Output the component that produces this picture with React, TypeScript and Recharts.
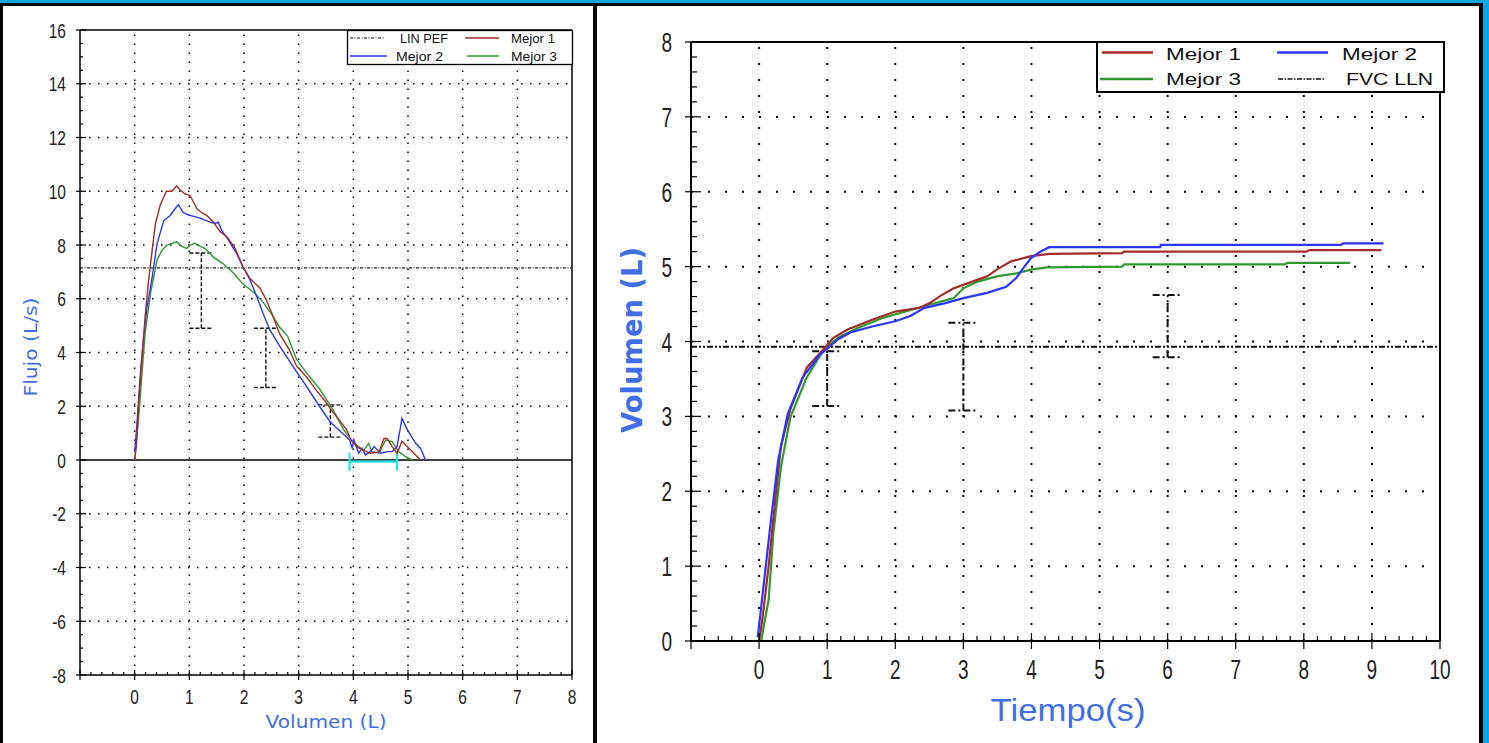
import React from 'react';
import { ComposedChart, Line, XAxis, YAxis, ReferenceLine, Scatter, ErrorBar, Label } from 'recharts';

// ---------- Flow / volume (left chart) ----------
const fvBest1: [number, number][] = [
  [0, 0], [0.03, 0.5], [0.07, 2.0], [0.13, 3.7], [0.19, 5.3], [0.25, 6.6], [0.32, 7.8], [0.38, 8.8],
  [0.47, 9.5], [0.58, 10.0], [0.68, 10.0], [0.77, 10.2], [0.83, 10.05], [0.92, 9.9], [1.01, 9.85],
  [1.14, 9.35], [1.23, 9.2], [1.32, 9.1], [1.44, 8.85], [1.56, 8.5], [1.69, 8.3], [1.83, 7.9],
  [1.98, 7.2], [2.11, 6.75], [2.29, 6.4], [2.41, 5.95], [2.53, 5.35], [2.65, 4.7], [2.83, 4.1],
  [2.96, 3.5], [3.14, 3.1], [3.32, 2.6], [3.5, 2.15], [3.6, 1.85], [3.68, 1.65], [3.87, 1.15],
  [3.97, 0.7], [4.1, 0.45], [4.2, 0.35], [4.31, 0.25], [4.47, 0.3], [4.56, 0.8], [4.62, 0.8],
  [4.71, 0.5], [4.8, 0.25], [4.89, 0.7], [5.02, 0.43], [5.14, 0.19], [5.23, 0],
];
const fvBest2: [number, number][] = [
  [0, 0.3], [0.04, 1.3], [0.1, 3.1], [0.16, 4.5], [0.22, 5.6], [0.32, 6.8], [0.41, 8.05], [0.53, 8.9],
  [0.65, 9.1], [0.74, 9.35], [0.8, 9.5], [0.89, 9.2], [1.01, 9.1], [1.2, 9.0], [1.38, 8.85],
  [1.47, 8.8], [1.53, 8.85], [1.59, 8.55], [1.71, 8.2], [1.86, 7.7], [1.98, 7.2], [2.11, 6.7],
  [2.23, 6.1], [2.35, 5.45], [2.47, 4.85], [2.65, 4.25], [2.89, 3.5], [3.14, 2.75], [3.38, 2.0],
  [3.58, 1.4], [3.77, 1.05], [3.93, 0.75], [3.98, 0.43], [4.01, 0.74], [4.1, 0.25], [4.16, 0.43],
  [4.22, 0.19], [4.31, 0.31], [4.38, 0.5], [4.5, 0.25], [4.62, 0.31], [4.71, 0.31], [4.8, 0.5],
  [4.89, 1.55], [4.99, 1.12], [5.14, 0.62], [5.23, 0.43], [5.32, 0],
];
const fvBest3: [number, number][] = [
  [0, 0], [0.07, 1.5], [0.13, 3.1], [0.19, 4.7], [0.29, 6.2], [0.41, 7.45], [0.5, 7.8], [0.59, 8.0],
  [0.77, 8.12], [0.86, 7.95], [0.95, 7.87], [1.02, 8.0], [1.1, 8.06], [1.2, 7.95], [1.29, 7.87],
  [1.44, 7.55], [1.62, 7.3], [1.81, 6.95], [1.98, 6.55], [2.17, 6.25], [2.32, 5.95], [2.5, 5.45],
  [2.65, 4.95], [2.8, 4.6], [2.96, 3.75], [3.14, 3.25], [3.38, 2.65], [3.62, 1.9], [3.83, 1.1],
  [4.01, 0.62], [4.19, 0.37], [4.28, 0.62], [4.34, 0.31], [4.47, 0.25], [4.59, 0.74], [4.71, 0.68],
  [4.83, 0.31], [4.96, 0.12], [5.08, 0],
];
const linPef = 7.15;
const fvErrX = [1.22, 2.4, 3.58];
const fvErrLow = [4.9, 2.7, 0.85];
const fvErrHigh = [7.7, 4.9, 2.05];
const fvCyanFrom = 3.93;
const fvCyanTo = 4.8;
const fvCyanY = -0.06;

const fvXLabels = [0, 1, 2, 3, 4, 5, 6, 7, 8];
const fvYLabels = [-8, -6, -4, -2, 0, 2, 4, 6, 8, 10, 12, 14, 16];
const fvXGrid = [0, 1, 2, 3, 4, 5, 6, 7];
const fvYGrid = [-6, -4, -2, 2, 4, 6, 8, 10, 12, 14];

// ---------- Volume / time (right chart) ----------
const vtBest1: [number, number][] = [
  [0, 0], [0.05, 0.3], [0.14, 1.0], [0.25, 2.0], [0.32, 2.6], [0.46, 3.1], [0.7, 3.65], [0.95, 3.9],
  [1.09, 4.05], [1.3, 4.16], [1.66, 4.29], [2.0, 4.4], [2.36, 4.45], [2.5, 4.51], [2.68, 4.62],
  [2.86, 4.71], [3.07, 4.78], [3.35, 4.87], [3.49, 4.96], [3.7, 5.07], [3.99, 5.14], [4.27, 5.17],
  [5.33, 5.18], [5.36, 5.2], [8.04, 5.2], [8.08, 5.22], [9.14, 5.22],
];
const vtBest2: [number, number][] = [
  [-0.02, 0.05], [0.07, 0.77], [0.18, 1.66], [0.28, 2.41], [0.42, 3.03], [0.64, 3.52], [0.88, 3.81],
  [1.02, 3.92], [1.16, 4.03], [1.34, 4.12], [1.66, 4.2], [2.0, 4.27], [2.22, 4.34], [2.43, 4.45],
  [2.72, 4.51], [3.0, 4.58], [3.35, 4.65], [3.63, 4.73], [3.78, 4.85], [3.88, 4.98], [3.99, 5.11],
  [4.13, 5.2], [4.26, 5.26], [5.89, 5.26], [5.9, 5.29], [8.54, 5.29], [8.58, 5.31], [9.17, 5.31],
];
const vtBest3: [number, number][] = [
  [0.03, 0], [0.14, 0.55], [0.21, 1.44], [0.32, 2.32], [0.46, 2.99], [0.7, 3.52], [0.95, 3.89],
  [1.16, 4.05], [1.45, 4.18], [1.8, 4.31], [2.15, 4.4], [2.5, 4.49], [2.86, 4.58], [3.0, 4.71],
  [3.21, 4.8], [3.49, 4.87], [3.78, 4.91], [3.99, 4.96], [4.23, 4.99], [5.33, 5.0], [5.36, 5.03],
  [7.72, 5.03], [7.76, 5.05], [8.68, 5.05],
];
const fvcLln = 3.93;
const vtErrX = [1, 3, 6];
const vtErrLow = [3.14, 3.08, 3.79];
const vtErrHigh = [3.87, 4.25, 4.62];

const vtXLabels = [0, 1, 2, 3, 4, 5, 6, 7, 8, 9, 10];
const vtYLabels = [0, 1, 2, 3, 4, 5, 6, 7, 8];
const vtXGrid = [0, 1, 2, 3, 4, 5, 6, 7, 8, 9];
const vtYGrid = [1, 2, 3, 4, 5, 6, 7];

// ---------- helpers ----------
const RED = '#A52A2A';
const BLUE = '#2B35FF';
const GREEN = '#2E9A2E';
const TITLE = '#3F6EE8';
const TICKFONT = '"Liberation Sans", Arial, sans-serif';

const toPts = (arr: [number, number][]) => arr.map(([x, y]) => ({ x, y }));
const range = (a: number, b: number, s: number) => {
  const out: number[] = [];
  const n = Math.round((b - a) / s);
  for (let i = 0; i <= n; i++) out.push(+(a + i * s).toFixed(4));
  return out;
};
const errData = (xs: number[], lo: number[], hi: number[]) =>
  xs.map((x, i) => ({ x, y: (lo[i] + hi[i]) / 2, err: [(hi[i] - lo[i]) / 2, (hi[i] - lo[i]) / 2] }));

type TickOpts = {
  majorEvery: number; labels: number[]; fs: number; sx: number; off: number;
  majA: number; majB: number; minB: number;
};
const isMajor = (v: number, every: number) =>
  Math.abs(v - Math.round(v)) < 1e-6 && Math.round(v) % every === 0;

const makeXTick = (o: TickOpts) => (p: any) => {
  const { x, y, payload } = p;
  const v = payload.value as number;
  const maj = isMajor(v, o.majorEvery);
  const show = maj && o.labels.includes(Math.round(v));
  return (
    <g>
      <line x1={x} x2={x} y1={y - (maj ? o.majB : o.minB)} y2={y + (maj ? o.majA : 0)} stroke="#000" strokeWidth={1.2} />
      {show && (
        <text transform={`translate(${x},${y + o.off}) scale(${o.sx},1)`} textAnchor="middle"
          fontFamily={TICKFONT} fontSize={o.fs} fill="#222">{Math.round(v)}</text>
      )}
    </g>
  );
};
const makeYTick = (o: TickOpts) => (p: any) => {
  const { x, y, payload } = p;
  const v = payload.value as number;
  const maj = isMajor(v, o.majorEvery);
  const show = maj && o.labels.includes(Math.round(v));
  return (
    <g>
      <line x1={x - (maj ? o.majA : 0)} x2={x + (maj ? o.majB : o.minB)} y1={y} y2={y} stroke="#000" strokeWidth={1.2} />
      {show && (
        <text transform={`translate(${x - o.off},${y + o.fs * 0.36}) scale(${o.sx},1)`} textAnchor="end"
          fontFamily={TICKFONT} fontSize={o.fs} fill="#222">{Math.round(v)}</text>
      )}
    </g>
  );
};

const FlowVolume = () => (
  <ComposedChart width={592} height={743} margin={{ top: 30, right: 20, bottom: 0, left: 0 }}
    style={{ position: 'absolute', left: 0, top: 0 }}>
    <XAxis type="number" dataKey="x" domain={[-1, 8]} allowDataOverflow ticks={range(-1, 8, 0.2)} interval={0}
      height={68} tickSize={0} tickMargin={0} axisLine={{ stroke: '#000', strokeWidth: 1.5 }}
      tick={makeXTick({ majorEvery: 1, labels: fvXLabels, fs: 21, sx: 0.74, off: 29, majA: 5, majB: 5, minB: 3 })}>
      <Label content={() => (
        <text x={326} y={728} textAnchor="middle" fontFamily='"DejaVu Sans", Verdana, sans-serif' fontSize={18}
          fill={TITLE} textLength={121} lengthAdjust="spacingAndGlyphs">Volumen (L)</text>
      )} />
    </XAxis>
    <YAxis type="number" dataKey="y" domain={[-8, 16]} allowDataOverflow ticks={range(-8, 16, 0.5)} interval={0}
      width={80} tickSize={0} tickMargin={0} axisLine={{ stroke: '#000', strokeWidth: 1.5 }}
      tick={makeYTick({ majorEvery: 2, labels: fvYLabels, fs: 21, sx: 0.74, off: 14, majA: 4, majB: 6, minB: 3 })}>
      <Label content={() => (
        <text transform="translate(37,347) rotate(-90)" textAnchor="middle" fontFamily='"DejaVu Sans", Verdana, sans-serif'
          fontSize={18} fill={TITLE} textLength={99} lengthAdjust="spacingAndGlyphs">Flujo (L/s)</text>
      )} />
    </YAxis>
    {fvXGrid.map((v) => (
      <ReferenceLine key={'gx' + v} x={v} stroke="#000" strokeWidth={1.5} strokeDasharray="1.5 7.5" />
    ))}
    {fvYGrid.map((v) => (
      <ReferenceLine key={'gy' + v} y={v} stroke="#000" strokeWidth={1.5} strokeDasharray="1.5 7.5" />
    ))}
    <ReferenceLine y={16} stroke="#000" strokeWidth={1.5} />
    <ReferenceLine x={8} stroke="#000" strokeWidth={1.5} />
    <ReferenceLine y={0} stroke="#000" strokeWidth={1.5} />
    <ReferenceLine y={linPef} stroke="#222" strokeWidth={1.2} strokeDasharray="3 1.5 1 1.5" />
    <Scatter data={errData(fvErrX, fvErrLow, fvErrHigh)} dataKey="y" shape={() => <g />} isAnimationActive={false}>
      <ErrorBar dataKey="err" direction="y" width={12} stroke="#111" strokeWidth={1.4} strokeDasharray="4 2" />
    </Scatter>
    <Scatter data={[{ x: (fvCyanFrom + fvCyanTo) / 2, y: fvCyanY, err: (fvCyanTo - fvCyanFrom) / 2 }]} dataKey="y"
      shape={() => <g />} isAnimationActive={false}>
      <ErrorBar dataKey="err" direction="x" width={9} stroke="#22E5E5" strokeWidth={2.2} />
    </Scatter>
    <Line data={toPts(fvBest3)} dataKey="y" type="linear" stroke={GREEN} strokeWidth={1.4} dot={false} isAnimationActive={false} />
    <Line data={toPts(fvBest2)} dataKey="y" type="linear" stroke={BLUE} strokeWidth={1.4} dot={false} isAnimationActive={false} />
    <Line data={toPts(fvBest1)} dataKey="y" type="linear" stroke={RED} strokeWidth={1.4} dot={false} isAnimationActive={false} />
  </ComposedChart>
);

const VolumeTime = () => (
  <ComposedChart width={870} height={743} margin={{ top: 42, right: 26, bottom: 0, left: 0 }}
    style={{ position: 'absolute', left: 596, top: 0 }}>
    <XAxis type="number" dataKey="x" domain={[-1, 10]} allowDataOverflow ticks={range(-1, 10, 0.2)} interval={0}
      height={102} tickSize={0} tickMargin={0} axisLine={{ stroke: '#000', strokeWidth: 2 }}
      tick={makeXTick({ majorEvery: 1, labels: vtXLabels, fs: 28, sx: 0.68, off: 38, majA: 8, majB: 8, minB: 5 })}>
      <Label content={() => (
        <text x={472} y={721} textAnchor="middle" fontFamily={TICKFONT} fontSize={32}
          fill={TITLE} textLength={155} lengthAdjust="spacingAndGlyphs">Tiempo(s)</text>
      )} />
    </XAxis>
    <YAxis type="number" dataKey="y" domain={[0, 8]} allowDataOverflow ticks={range(0, 8, 0.2)} interval={0}
      width={95} tickSize={0} tickMargin={0} axisLine={{ stroke: '#000', strokeWidth: 2 }}
      tick={makeYTick({ majorEvery: 1, labels: vtYLabels, fs: 28, sx: 0.68, off: 19, majA: 6, majB: 10, minB: 6 })}>
      <Label content={() => (
        <text transform="translate(46,340) rotate(-90)" textAnchor="middle" fontFamily='"DejaVu Sans", Verdana, sans-serif'
          fontSize={28} fontWeight="bold" fill={TITLE} textLength={186} lengthAdjust="spacingAndGlyphs">Volumen (L)</text>
      )} />
    </YAxis>
    {vtXGrid.map((v) => (
      <ReferenceLine key={'gx' + v} x={v} stroke="#000" strokeWidth={2} strokeDasharray="2 14" />
    ))}
    {vtYGrid.map((v) => (
      <ReferenceLine key={'gy' + v} y={v} stroke="#000" strokeWidth={2} strokeDasharray="2 15" />
    ))}
    <ReferenceLine y={8} stroke="#000" strokeWidth={2} />
    <ReferenceLine x={10} stroke="#000" strokeWidth={2} />
    <ReferenceLine y={fvcLln} stroke="#111" strokeWidth={1.8} strokeDasharray="6 2 2 2 2 2" />
    <Scatter data={errData(vtErrX, vtErrLow, vtErrHigh)} dataKey="y" shape={() => <g />} isAnimationActive={false}>
      <ErrorBar dataKey="err" direction="y" width={15} stroke="#111" strokeWidth={2} strokeDasharray="7 3 2 3" />
    </Scatter>
    <Line data={toPts(vtBest3)} dataKey="y" type="linear" stroke={GREEN} strokeWidth={2.2} dot={false} isAnimationActive={false} />
    <Line data={toPts(vtBest1)} dataKey="y" type="linear" stroke={RED} strokeWidth={2.2} dot={false} isAnimationActive={false} />
    <Line data={toPts(vtBest2)} dataKey="y" type="linear" stroke={BLUE} strokeWidth={2.2} dot={false} isAnimationActive={false} />
  </ComposedChart>
);

const Legends = () => (
  <svg width={1489} height={743} style={{ position: 'absolute', left: 0, top: 0, pointerEvents: 'none' }}>
    {/* left legend */}
    <rect x={347.5} y={30.5} width={225} height={34} fill="#fff" stroke="#000" strokeWidth={1.3} />
    <line x1={350} x2={385} y1={38} y2={38} stroke="#111" strokeWidth={1.2} strokeDasharray="3 1.5 1 1.5" />
    <text x={400} y={42.5} fontFamily={TICKFONT} fontSize={13} textLength={48} lengthAdjust="spacingAndGlyphs" fill="#111">LIN PEF</text>
    <line x1={465} x2={499} y1={38} y2={38} stroke={RED} strokeWidth={1.5} />
    <text x={511} y={42.5} fontFamily={TICKFONT} fontSize={13} textLength={44} lengthAdjust="spacingAndGlyphs" fill="#111">Mejor 1</text>
    <line x1={350} x2={387} y1={56} y2={56} stroke={BLUE} strokeWidth={1.5} />
    <text x={396} y={60.5} fontFamily={TICKFONT} fontSize={13} textLength={47} lengthAdjust="spacingAndGlyphs" fill="#111">Mejor 2</text>
    <line x1={467} x2={499} y1={56} y2={56} stroke={GREEN} strokeWidth={1.5} />
    <text x={511} y={60.5} fontFamily={TICKFONT} fontSize={13} textLength={46} lengthAdjust="spacingAndGlyphs" fill="#111">Mejor 3</text>
    {/* right legend */}
    <rect x={1097} y={42} width={347} height={50} fill="#fff" stroke="#000" strokeWidth={2} />
    <line x1={1102} x2={1153} y1={52.5} y2={52.5} stroke={RED} strokeWidth={2.4} />
    <text x={1166} y={59.5} fontFamily={TICKFONT} fontSize={17} textLength={75} lengthAdjust="spacingAndGlyphs" fill="#111">Mejor 1</text>
    <line x1={1277} x2={1328} y1={52.5} y2={52.5} stroke={BLUE} strokeWidth={2.4} />
    <text x={1342} y={59.5} fontFamily={TICKFONT} fontSize={17} textLength={75} lengthAdjust="spacingAndGlyphs" fill="#111">Mejor 2</text>
    <line x1={1100} x2={1153} y1={79} y2={79} stroke={GREEN} strokeWidth={2.4} />
    <text x={1166} y={84.5} fontFamily={TICKFONT} fontSize={17} textLength={75} lengthAdjust="spacingAndGlyphs" fill="#111">Mejor 3</text>
    <line x1={1278} x2={1325} y1={79} y2={79} stroke="#111" strokeWidth={1.6} strokeDasharray="5 1.5 1.5 1.5" />
    <text x={1346} y={84.5} fontFamily={TICKFONT} fontSize={17} textLength={87} lengthAdjust="spacingAndGlyphs" fill="#111">FVC LLN</text>
  </svg>
);

export default function App() {
  return (
    <div style={{ position: 'absolute', left: 0, top: 0, width: 1489, height: 743, background: '#0AA6EC', overflow: 'hidden' }}>
      <div style={{ position: 'absolute', left: 0, top: 3, width: 1483, height: 740, background: '#000' }} />
      <div style={{ position: 'absolute', left: 3, top: 6, width: 590, height: 737, background: '#fff' }} />
      <div style={{ position: 'absolute', left: 597, top: 6, width: 882, height: 737, background: '#fff' }} />
      <FlowVolume />
      <VolumeTime />
      <Legends />
    </div>
  );
}
